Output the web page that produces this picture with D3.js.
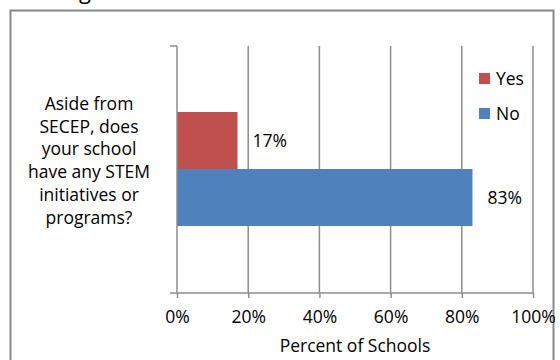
<!DOCTYPE html>
<html>
<head>
<meta charset="utf-8">
<script src="https://cdn.jsdelivr.net/npm/d3@7"></script>
<style>
  body { margin: 0; background: #fff; }
  text { font-family: "Open Sans", sans-serif; fill: #000; }
</style>
</head>
<body>
<script>
// data
var question = ["Aside from", "SECEP, does", "your school", "have any STEM", "initiatives or", "programs?"];
var seriesNames = ["Yes", "No"];
var seriesValues = [17, 83];
var seriesColors = ["#C0504D", "#4F81BD"];
var xTicks = [0, 20, 40, 60, 80, 100];

var width = 560, height = 360;
var margin = {top: 46, left: 177, right: 27, bottom: 67};
var fs = "17.5px";

var svg = d3.select("body").append("svg")
    .attr("width", width)
    .attr("height", height);

// title cut off at the top of the crop
svg.append("text")
    .attr("x", 62)
    .attr("y", -1)
    .style("font-size", "22px")
    .text("Figure 14: STEM Initiatives at Individual Schools");

// chart border
svg.append("rect")
    .attr("x", 10.5).attr("y", 10.5)
    .attr("width", 543).attr("height", 370)
    .attr("fill", "none")
    .attr("stroke", "#888")
    .attr("stroke-width", 2);

var x = d3.scaleLinear()
    .domain([0, 100])
    .range([margin.left, width - margin.right]);

var plotTop = margin.top, plotBottom = height - margin.bottom;

// bars occupy middle band of the single category
var y = d3.scaleBand()
    .domain(seriesNames)
    .range([112, 226]);

// gridlines
svg.append("g")
  .selectAll("line")
  .data(xTicks.slice(1))
  .enter().append("line")
    .attr("x1", function(d) { return x(d); })
    .attr("x2", function(d) { return x(d); })
    .attr("y1", plotTop)
    .attr("y2", plotBottom)
    .attr("stroke", "#8c8c8c")
    .attr("stroke-width", 1.5);

// bars
svg.append("g")
  .selectAll("rect")
  .data(seriesValues)
  .enter().append("rect")
    .attr("x", x(0))
    .attr("y", function(d, i) { return y(seriesNames[i]); })
    .attr("width", function(d) { return x(d) - x(0); })
    .attr("height", y.bandwidth())
    .attr("fill", function(d, i) { return seriesColors[i]; });

// value labels
svg.append("g")
  .selectAll("text")
  .data(seriesValues)
  .enter().append("text")
    .attr("x", function(d) { return x(d) + 15; })
    .attr("y", function(d, i) { return y(seriesNames[i]) + y.bandwidth() / 2; })
    .attr("dy", "0.35em")
    .style("font-size", fs)
    .text(function(d) { return d + "%"; });

// x axis
var xAxis = d3.axisBottom(x)
    .tickValues(xTicks)
    .tickSize(5)
    .tickPadding(13)
    .tickFormat(function(d) { return d + "%"; });

var gx = svg.append("g")
    .attr("transform", "translate(0," + plotBottom + ")")
    .call(xAxis);
gx.select(".domain").remove();
gx.selectAll("line").attr("stroke", "#8c8c8c").attr("stroke-width", 1.5);
gx.selectAll("text").style("font-size", fs).style("font-family", "Open Sans, sans-serif").attr("fill", "#000");
gx.append("line")
    .attr("x1", x(0) - 7).attr("x2", x(100))
    .attr("stroke", "#8c8c8c").attr("stroke-width", 1.5);

// y axis line with category boundary ticks
var gy = svg.append("g");
gy.append("line")
    .attr("x1", x(0)).attr("x2", x(0))
    .attr("y1", plotTop).attr("y2", plotBottom)
    .attr("stroke", "#8c8c8c").attr("stroke-width", 1.5);
gy.append("line")
    .attr("x1", x(0) - 7).attr("x2", x(0))
    .attr("y1", plotTop).attr("y2", plotTop)
    .attr("stroke", "#8c8c8c").attr("stroke-width", 1.5);

// category label
var catText = svg.append("text")
    .attr("text-anchor", "middle")
    .style("font-size", fs);
catText.selectAll("tspan")
  .data(question)
  .enter().append("tspan")
    .attr("x", 89)
    .attr("y", function(d, i) { return 110 + i * 22.7; })
    .text(function(d) { return d; });

// x axis title
svg.append("text")
    .attr("x", x(50))
    .attr("y", 352)
    .attr("text-anchor", "middle")
    .style("font-size", fs)
    .text("Percent of Schools");

// legend
var legend = svg.append("g")
  .selectAll("g")
  .data(seriesNames)
  .enter().append("g")
    .attr("transform", function(d, i) { return "translate(479," + (73 + i * 35) + ")"; });
legend.append("rect")
    .attr("width", 11).attr("height", 11)
    .attr("fill", function(d, i) { return seriesColors[i]; });
legend.append("text")
    .attr("x", 17)
    .attr("y", 6)
    .attr("dy", "0.35em")
    .style("font-size", fs)
    .text(function(d) { return d; });
</script>
</body>
</html>
